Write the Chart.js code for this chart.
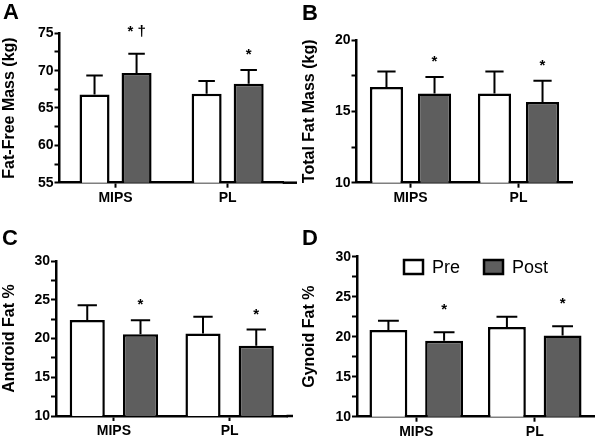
<!DOCTYPE html>
<html><head><meta charset="utf-8">
<script src="https://cdn.jsdelivr.net/npm/chart.js@4/dist/chart.umd.min.js"></script>
<style>
html,body{margin:0;padding:0;background:#fff;width:600px;height:438px;overflow:hidden;}
canvas{position:absolute;}
.letter{position:absolute;z-index:2;font:bold 22px "Liberation Sans",Arial,sans-serif;line-height:22px;color:#000;}
</style></head><body>
<canvas id="cA" width="300" height="219" style="left:0;top:0"></canvas>
<canvas id="cB" width="300" height="219" style="left:300px;top:0"></canvas>
<canvas id="cC" width="300" height="219" style="left:0;top:219px"></canvas>
<canvas id="cD" width="300" height="219" style="left:300px;top:219px"></canvas>
<div class="letter" style="left:3px;top:1px">A</div>
<div class="letter" style="left:302px;top:2px">B</div>
<div class="letter" style="left:2px;top:227px">C</div>
<div class="letter" style="left:302px;top:227px">D</div>
<script>
// ---- data ----
const categories = ['MIPS', 'PL'];
const seriesNames = ['Pre', 'Post'];

const ffmPre = [66.8, 66.9];
const ffmPreSD = [2.55, 1.7];
const ffmPost = [69.7, 68.25];
const ffmPostSD = [2.55, 1.85];
const ffmSig = ['* \u2020', '*'];

const fatPre = [16.7, 16.25];
const fatPreSD = [1.1, 1.55];
const fatPost = [16.25, 15.65];
const fatPostSD = [1.15, 1.5];
const fatSig = ['*', '*'];

const andPre = [22.4, 20.65];
const andPreSD = [1.9, 2.15];
const andPost = [20.55, 19.05];
const andPostSD = [1.8, 2.1];
const andSig = ['*', '*'];

const gynPre = [20.85, 21.2];
const gynPreSD = [1.15, 1.3];
const gynPost = [19.5, 20.15];
const gynPostSD = [1.05, 1.15];
const gynSig = ['*', '*'];

const ffmRange = [55, 75];
const fatRange = [10, 20];
const andRange = [10, 30];
const gynRange = [10, 30];
const tickStep = 2.5;      // minor ticks
const labelStep = 5;       // labelled ticks

// ---- styling ----
const FONT = '"Liberation Sans", Arial, Helvetica, sans-serif';
const PRE_COLOR = '#ffffff';
const POST_COLOR = '#5e5e5e';

const errorBars = {
  id: 'errorBars',
  afterDatasetsDraw(chart, args, opts) {
    const ctx = chart.ctx, y = chart.scales.y, area = chart.chartArea;
    chart.data.datasets.forEach((ds, i) => {
      const meta = chart.getDatasetMeta(i);
      meta.data.forEach((bar, j) => {
        const v = ds.data[j], e = ds.errors[j];
        const top = y.getPixelForValue(v + e);
        const cw = bar.width * 0.55;
        ctx.save();
        ctx.strokeStyle = '#000';
        ctx.lineWidth = 2;
        ctx.beginPath();
        ctx.moveTo(bar.x, bar.y);
        ctx.lineTo(bar.x, top);
        ctx.moveTo(bar.x - cw / 2, top);
        ctx.lineTo(bar.x + cw / 2, top);
        ctx.stroke();
        if (ds.sig && ds.sig[j]) {
          const off = Array.isArray(opts.sigOffset) ? opts.sigOffset[j] : opts.sigOffset;
          ctx.fillStyle = '#000';
          ctx.font = 'bold 15px ' + FONT;
          ctx.textAlign = 'center';
          ctx.textBaseline = 'alphabetic';
          ctx.fillText(ds.sig[j], bar.x, top - off);
        }
        ctx.restore();
      });
    });
    if (opts.axisEnd && opts.axisEnd > area.right) {
      ctx.save();
      ctx.strokeStyle = '#000';
      ctx.lineWidth = 2.5;
      ctx.beginPath();
      ctx.moveTo(area.right - 1, area.bottom);
      ctx.lineTo(opts.axisEnd, area.bottom);
      ctx.stroke();
      ctx.restore();
    }
    if (opts.legend) {
      ctx.save();
      let x = opts.legend.x;
      const yc = opts.legend.y;
      ctx.font = '18px ' + FONT;
      ctx.textBaseline = 'middle';
      ctx.textAlign = 'left';
      chart.data.datasets.forEach(ds => {
        ctx.fillStyle = ds.backgroundColor;
        ctx.fillRect(x, yc - 7, 19, 14);
        ctx.strokeStyle = '#000';
        ctx.lineWidth = 2.5;
        ctx.strokeRect(x, yc - 7, 19, 14);
        ctx.fillStyle = '#000';
        ctx.fillText(ds.label, x + 28, yc + 1);
        x += 28 + ctx.measureText(ds.label).width + 24;
      });
      ctx.restore();
    }
  }
};

function makePanel(id, p) {
  const W = 300, H = 219;
  new Chart(document.getElementById(id), {
    type: 'bar',
    data: {
      labels: categories,
      datasets: [
        { label: seriesNames[0], data: p.pre, errors: p.preSD, backgroundColor: PRE_COLOR,
          borderColor: '#000', borderWidth: 2.5, categoryPercentage: p.cp, barPercentage: p.bp },
        { label: seriesNames[1], data: p.post, errors: p.postSD, sig: p.sig, backgroundColor: POST_COLOR,
          borderColor: '#000', borderWidth: 2.5, categoryPercentage: p.cp, barPercentage: p.bp }
      ]
    },
    options: {
      responsive: false, animation: false, devicePixelRatio: 1,
      layout: { padding: { left: 0, top: p.T, right: W - p.R, bottom: 0 } },
      plugins: {
        legend: { display: false }, tooltip: { enabled: false },
        errorBars: { sigOffset: p.sigOffset, axisEnd: p.axisEnd, legend: p.legend }
      },
      scales: {
        x: {
          grid: { display: true, drawOnChartArea: false, drawTicks: true, tickLength: 5,
                  tickWidth: 2, tickColor: '#000', offset: false },
          border: { display: true, color: '#000', width: 2.5 },
          ticks: { color: '#000', font: { family: FONT, size: 14, weight: 'bold' }, padding: 2, maxRotation: 0 },
          afterFit(s) { s.height = H - p.B; }
        },
        y: {
          min: p.range[0], max: p.range[1],
          ticks: { stepSize: tickStep, autoSkip: false, color: '#000', padding: 1,
                   font: { family: FONT, size: 14, weight: 'bold' },
                   callback: v => (v % labelStep === 0 ? v : '') },
          grid: { display: true, drawOnChartArea: false, drawTicks: true, tickLength: 5,
                  tickWidth: 2, tickColor: '#000' },
          border: { display: true, color: '#000', width: 2.5 },
          title: { display: true, text: p.title, color: '#000', padding: 0,
                   font: { family: FONT, size: 16, weight: 'bold' } },
          afterFit(s) { s.width = p.L; }
        }
      }
    },
    plugins: [errorBars]
  });
}

makePanel('cA', { pre: ffmPre, preSD: ffmPreSD, post: ffmPost, postSD: ffmPostSD, sig: ffmSig,
  range: ffmRange, title: 'Fat-Free Mass (kg)', L: 59.5, T: 33.3, R: 283.7, B: 182.7,
  cp: 0.75, bp: 0.714, sigOffset: [18, 11], axisEnd: 297 });
makePanel('cB', { pre: fatPre, preSD: fatPreSD, post: fatPost, postSD: fatPostSD, sig: fatSig,
  range: fatRange, title: 'Total Fat Mass (kg)', L: 56.5, T: 40, R: 272.5, B: 182.7,
  cp: 0.89, bp: 0.69, sigOffset: 11 });
makePanel('cC', { pre: andPre, preSD: andPreSD, post: andPost, postSD: andPostSD, sig: andSig,
  range: andRange, title: 'Android Fat %', L: 56, T: 42, R: 287.5, B: 197,
  cp: 0.92, bp: 0.66, sigOffset: 11, axisEnd: 293 });
makePanel('cD', { pre: gynPre, preSD: gynPreSD, post: gynPost, postSD: gynPostSD, sig: gynSig,
  range: gynRange, title: 'Gynoid Fat %', L: 57, T: 37.7, R: 294, B: 197.7,
  cp: 0.94, bp: 0.68, sigOffset: 18, legend: { x: 104, y: 48 } });
</script>
</body></html>
